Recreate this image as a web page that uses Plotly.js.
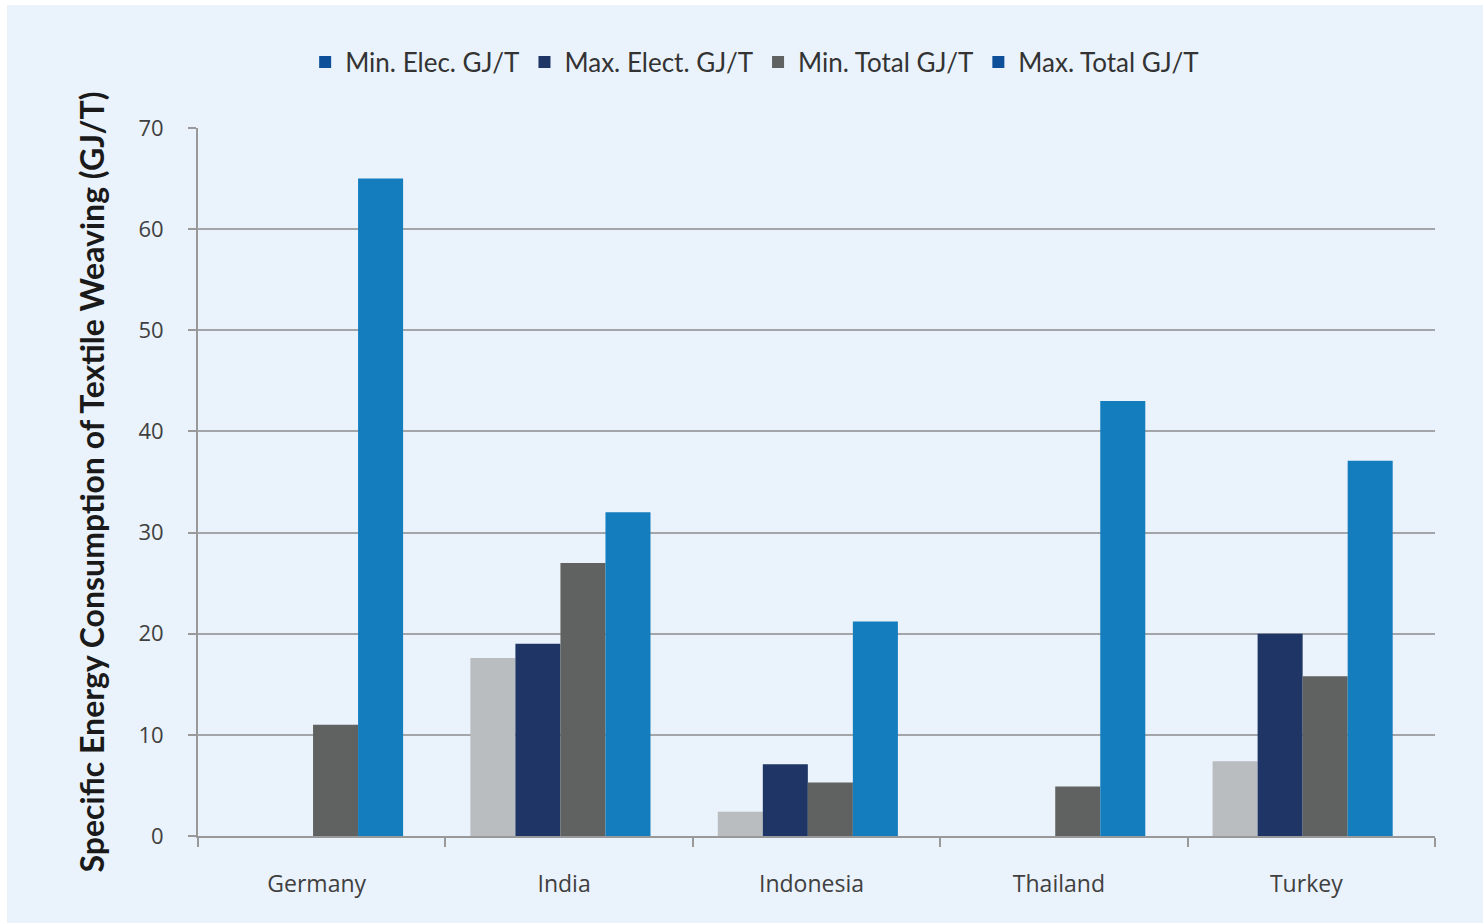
<!DOCTYPE html>
<html>
<head>
<meta charset="utf-8">
<script src="https://cdn.plot.ly/plotly-3.0.1.min.js"></script>
<style>
  html, body { margin:0; padding:0; background:#ffffff; }
  #chart { position:absolute; left:7px; top:5px; width:1476px; height:918px; }
</style>
</head>
<body>
<div id="chart"></div>
<script>
const countries = ["Germany", "India", "Indonesia", "Thailand", "Turkey"];
const minElec  = [null, 17.6, 2.4, null, 7.4];
const maxElec  = [null, 19.0, 7.1, null, 20.0];
const minTotal = [11.0, 27.0, 5.3, 4.9, 15.8];
const maxTotal = [65.0, 32.0, 21.2, 43.0, 37.1];
const seriesNames = ["Min. Elec. GJ/T", "Max. Elect. GJ/T", "Min. Total GJ/T", "Max. Total GJ/T"];

const barColors = ["#babdc0", "#1e3565", "#606261", "#137dbd"];
const legendColors = ["#0d4f99", "#1e3565", "#606261", "#0d4f99"];
const seriesValues = [minElec, maxElec, minTotal, maxTotal];

const barW = 0.182;
const groupStart = -0.399;

const traces = [];
seriesValues.forEach((vals, i) => {
  traces.push({
    type: "bar", x: countries, y: vals, name: seriesNames[i],
    width: barW, offset: groupStart + i * barW,
    marker: { color: barColors[i], line: { width: 0 } },
    showlegend: false, hoverinfo: "x+y"
  });
});
seriesValues.forEach((vals, i) => {
  traces.push({
    type: "scatter", mode: "markers", x: [null], y: [null], name: seriesNames[i],
    marker: { symbol: "square", color: legendColors[i], size: 16 },
    showlegend: true, hoverinfo: "skip"
  });
});

const bg = "#eaf2fb";
const layout = {
  width: 1476, height: 918,
  paper_bgcolor: bg, plot_bgcolor: bg,
  margin: { l: 191, r: 48, t: 123, b: 87 },
  barmode: "overlay",
  font: { family: "'Open Sans', sans-serif", color: "#404040" },
  showlegend: true,
  legend: {
    orientation: "h", x: 0.45, xanchor: "center", y: 1.093, yanchor: "middle",
    font: { size: 26, color: "#333333", family: "Lato, sans-serif" },
    itemwidth: 30, itemsizing: "constant", tracegroupgap: 0,
    bgcolor: "rgba(0,0,0,0)"
  },
  xaxis: {
    type: "category",
    tickson: "boundaries", ticks: "outside", ticklen: 9, tickwidth: 2, tickcolor: "#999999",
    showline: true, linecolor: "#999999", linewidth: 2,
    showgrid: false, zeroline: false,
    tickfont: { size: 23, color: "#404040", family: "'Open Sans', sans-serif" },
    ticklabelstandoff: 26, ticklabelshift: -5
  },
  yaxis: {
    range: [0, 70], dtick: 10, tick0: 0,
    showgrid: true, gridcolor: "#a3a5a8", gridwidth: 2,
    showline: true, linecolor: "#999999", linewidth: 2,
    ticks: "outside", ticklen: 8, tickwidth: 2, tickcolor: "#999999",
    zeroline: false,
    tickfont: { size: 22, color: "#404040", family: "'Open Sans', sans-serif" },
    ticklabelstandoff: 20,
    title: {
      text: "<b>Specific Energy Consumption of Textile Weaving (GJ/T)</b>",
      font: { size: 32, color: "#1a1a1a", family: "Lato, sans-serif" },
      standoff: 24
    }
  }
};

Plotly.newPlot("chart", traces, layout, { displayModeBar: false });
</script>
</body>
</html>
